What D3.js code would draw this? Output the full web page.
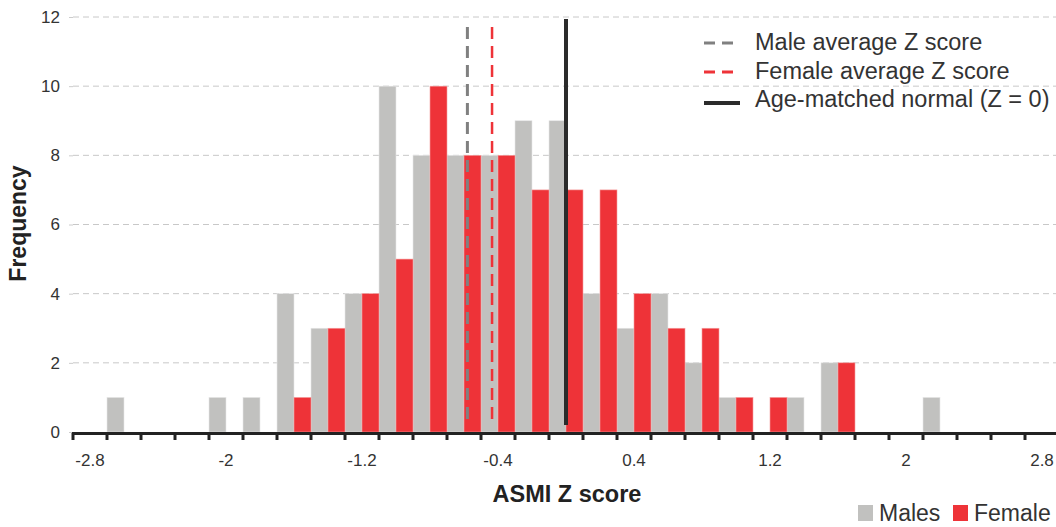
<!DOCTYPE html>
<html><head><meta charset="utf-8">
<script src="https://cdn.jsdelivr.net/npm/d3@7"></script>
<style>body{margin:0;background:#fff}svg{display:block;font-family:"Liberation Sans",Arial,sans-serif}</style>
</head><body><svg id="c" width="1056" height="527"></svg>
<script>
const bins = [-2.8,-2.6,-2.4,-2.2,-2.0,-1.8,-1.6,-1.4,-1.2,-1.0,-0.8,-0.6,-0.4,-0.2,0.0,0.2,0.4,0.6,0.8,1.0,1.2,1.4,1.6,1.8,2.0,2.2,2.4,2.6,2.8];
const males   = [0,1,0,0,1,1,4,3,4,10,8,8,8,9,9,4,3,4,2,1,0,1,2,0,0,1,0,0,0];
const females = [0,0,0,0,0,0,1,3,4,5,10,8,8,7,7,7,4,3,3,1,1,0,2,0,0,0,0,0,0];
const xTickLabels = [-2.8,-2,-1.2,-0.4,0.4,1.2,2,2.8];
const yTicks = [0,2,4,6,8,10,12];
const maleAvg = -0.58, femaleAvg = -0.435, normalZ = 0;
const legendLines = [
  {label:"Male average Z score", color:"#808080", dash:"11,7"},
  {label:"Female average Z score", color:"#ee3338", dash:"11,7"},
  {label:"Age-matched normal (Z = 0)", color:"#2b2b2b", dash:null}
];
const seriesLegend = [{label:"Males",color:"#c1c1bf"},{label:"Female",color:"#ee3338"}];

(function(){
const svg = d3.select("#c");
const mL = 73, mR = 1059, mT = 17, mB = 432;
const x = d3.scaleBand().domain(bins.map((d,i)=>i)).range([mL,mR]).padding(0);
const bw = x.bandwidth();
const xv = d3.scaleLinear().domain([bins[0],bins[bins.length-1]]).range([x(0)+bw/2, x(bins.length-1)+bw/2]);
const y = d3.scaleLinear().domain([0,12]).range([mB,mT]);

// grid
svg.append("g").selectAll("line").data(yTicks.filter(d=>d>0)).join("line")
  .attr("x1",mL).attr("x2",1056).attr("y1",d=>y(d)).attr("y2",d=>y(d))
  .attr("stroke","#c8c8c8").attr("stroke-width",1).attr("stroke-dasharray","6,4");

// y axis
const ya = svg.append("g").attr("transform",`translate(${mL},0)`)
  .call(d3.axisLeft(y).tickValues(yTicks).tickSize(4).tickPadding(9));
ya.select(".domain").remove();
ya.selectAll(".tick line").attr("stroke","#ccc");
ya.selectAll("text").attr("font-size",17).attr("fill","#333").attr("font-family","Liberation Sans, Arial, sans-serif");

// bars
const bars = svg.append("g");
bars.selectAll(".m").data(males).join("rect").attr("class","m")
  .attr("x",(d,i)=>x(i)).attr("width",bw/2).attr("y",d=>y(d)).attr("height",d=>mB-y(d))
  .attr("fill","#c1c1bf").attr("stroke","#e6e6e6").attr("stroke-width",0.6)
  .attr("display",d=>d>0?null:"none");
bars.selectAll(".f").data(females).join("rect").attr("class","f")
  .attr("x",(d,i)=>x(i)+bw/2).attr("width",bw/2).attr("y",d=>y(d)).attr("height",d=>mB-y(d))
  .attr("fill","#ee3338").attr("stroke","#f5a0a0").attr("stroke-width",0.6)
  .attr("display",d=>d>0?null:"none");

// reference lines
svg.append("line").attr("x1",xv(maleAvg)).attr("x2",xv(maleAvg)).attr("y1",27).attr("y2",425)
  .attr("stroke","#808080").attr("stroke-width",3).attr("stroke-dasharray","12,7");
svg.append("line").attr("x1",xv(femaleAvg)).attr("x2",xv(femaleAvg)).attr("y1",27).attr("y2",425)
  .attr("stroke","#ee3338").attr("stroke-width",2.5).attr("stroke-dasharray","12,7");
svg.append("line").attr("x1",xv(normalZ)).attr("x2",xv(normalZ)).attr("y1",19).attr("y2",425)
  .attr("stroke","#2b2b2b").attr("stroke-width",4);

// x axis line + ticks
svg.append("line").attr("x1",mL-1).attr("x2",1056).attr("y1",mB+1.5).attr("y2",mB+1.5)
  .attr("stroke","#222").attr("stroke-width",3);
svg.append("g").selectAll("line").data(d3.range(bins.length)).join("line")
  .attr("x1",i=>x(i)).attr("x2",i=>x(i)).attr("y1",mB+1).attr("y2",mB+8)
  .attr("stroke","#222").attr("stroke-width",3);
svg.append("g").selectAll("text").data(xTickLabels).join("text")
  .attr("x",d=>xv(d)).attr("y",466).attr("text-anchor","middle")
  .attr("font-size",17).attr("fill","#333").text(d=>d);

// titles
svg.append("text").attr("x",567).attr("y",502).attr("text-anchor","middle")
  .attr("font-size",23.5).attr("font-weight","bold").attr("fill","#222").text("ASMI Z score");
svg.append("text").attr("transform","translate(26,223.5) rotate(-90)").attr("text-anchor","middle")
  .attr("font-size",23).attr("font-weight","bold").attr("fill","#222").text("Frequency");

// legend top
const lg = svg.append("g");
const lineY = [43,72,103], textY = [50,78.5,107];
legendLines.forEach((d,i)=>{
  lg.append("line").attr("x1",704).attr("x2",740).attr("y1",lineY[i]).attr("y2",lineY[i])
    .attr("stroke",d.color).attr("stroke-width",d.dash?3:4).attr("stroke-dasharray",d.dash);
  lg.append("text").attr("x",755).attr("y",textY[i]).attr("font-size",23.5).attr("fill","#333").text(d.label);
});
// legend bottom
seriesLegend.forEach((d,i)=>{
  const gx = i===0?858:953;
  svg.append("rect").attr("x",gx).attr("y",505).attr("width",15).attr("height",16).attr("fill",d.color);
  svg.append("text").attr("x",gx+21).attr("y",521).attr("font-size",23).attr("fill","#333").text(d.label);
});
})();
</script></body></html>
